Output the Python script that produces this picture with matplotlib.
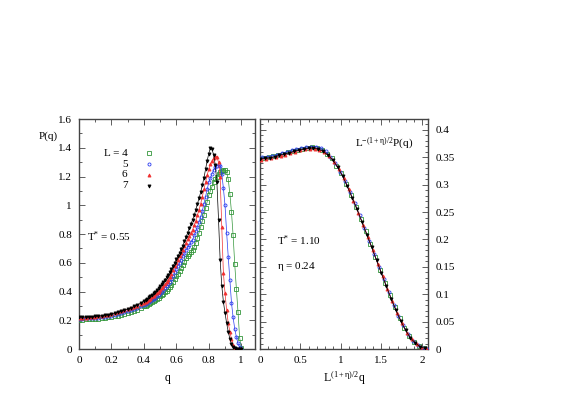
import numpy as np
import matplotlib
matplotlib.use('Agg')
import matplotlib.pyplot as plt
from matplotlib.ticker import MultipleLocator, FuncFormatter

plt.rcParams['font.family'] = ['Liberation Serif', 'DejaVu Serif']
plt.rcParams['mathtext.fontset'] = 'custom'
plt.rcParams['mathtext.rm'] = 'Liberation Serif'
plt.rcParams['mathtext.it'] = 'Liberation Serif'

# ── left panel: P(q) at T* = 0.55 ──
q_left = np.round(np.concatenate([np.arange(0, 0.39, 0.02), np.arange(0.40, 1.001, 0.01)]), 3)

P_L4 = [0.205, 0.205, 0.206, 0.207, 0.208, 0.210, 0.212, 0.214, 0.217, 0.220,
        0.224, 0.228, 0.232, 0.237, 0.243, 0.249, 0.256, 0.263, 0.271, 0.283,
        0.296, 0.302, 0.309, 0.314, 0.320, 0.326, 0.333, 0.340, 0.348, 0.357,
        0.366, 0.375, 0.385, 0.395, 0.405, 0.417, 0.43, 0.447, 0.465, 0.485,
        0.505, 0.525, 0.545, 0.565, 0.585, 0.607, 0.63, 0.645, 0.66, 0.675,
        0.69, 0.71, 0.74, 0.775, 0.81, 0.85, 0.89, 0.93, 0.98, 1.025,
        1.07, 1.10, 1.13, 1.16, 1.18, 1.20, 1.215, 1.23, 1.24, 1.245,
        1.245, 1.23, 1.18, 1.08, 0.95, 0.79, 0.59, 0.42, 0.26, 0.08, 0.01]
P_L5 = [0.212, 0.212, 0.213, 0.214, 0.215, 0.217, 0.219, 0.222, 0.225, 0.229,
        0.233, 0.238, 0.243, 0.249, 0.255, 0.262, 0.269, 0.277, 0.286, 0.297,
        0.308, 0.314, 0.320, 0.327, 0.334, 0.341, 0.349, 0.358, 0.367, 0.377,
        0.388, 0.400, 0.412, 0.425, 0.438, 0.453, 0.468, 0.489, 0.51, 0.535,
        0.56, 0.58, 0.60, 0.622, 0.645, 0.667, 0.69, 0.707, 0.725, 0.742,
        0.76, 0.79, 0.82, 0.85, 0.885, 0.92, 0.96, 1.01, 1.06, 1.11,
        1.16, 1.19, 1.22, 1.245, 1.265, 1.275, 1.28, 1.275, 1.22, 1.12,
        1.00, 0.81, 0.64, 0.48, 0.32, 0.22, 0.14, 0.085, 0.04, 0.012, 0.002]
P_L6 = [0.218, 0.218, 0.219, 0.220, 0.222, 0.224, 0.227, 0.230, 0.234, 0.239,
        0.244, 0.249, 0.255, 0.261, 0.268, 0.275, 0.283, 0.292, 0.301, 0.310,
        0.320, 0.327, 0.335, 0.342, 0.350, 0.360, 0.370, 0.380, 0.390, 0.400,
        0.410, 0.422, 0.435, 0.45, 0.465, 0.482, 0.50, 0.525, 0.55, 0.575,
        0.60, 0.622, 0.645, 0.667, 0.69, 0.715, 0.74, 0.762, 0.785, 0.807,
        0.83, 0.86, 0.89, 0.93, 0.97, 1.01, 1.06, 1.11, 1.16, 1.21,
        1.25, 1.285, 1.31, 1.33, 1.34, 1.335, 1.30, 1.20, 0.85, 0.53,
        0.39, 0.27, 0.18, 0.12, 0.07, 0.03, 0.01, 0.003, 0.0, 0.0, 0.0]
P_L7 = [0.222, 0.222, 0.223, 0.224, 0.225, 0.227, 0.229, 0.232, 0.236, 0.240,
        0.245, 0.250, 0.256, 0.262, 0.269, 0.277, 0.286, 0.296, 0.307, 0.320,
        0.334, 0.342, 0.350, 0.359, 0.368, 0.378, 0.388, 0.399, 0.411, 0.424,
        0.437, 0.451, 0.466, 0.482, 0.499, 0.517, 0.536, 0.556, 0.578, 0.601,
        0.625, 0.647, 0.67, 0.695, 0.72, 0.75, 0.78, 0.81, 0.84, 0.87,
        0.90, 0.93, 0.97, 1.01, 1.05, 1.09, 1.14, 1.19, 1.25, 1.31,
        1.36, 1.40, 1.39, 1.35, 1.28, 1.16, 0.90, 0.62, 0.44, 0.33,
        0.25, 0.18, 0.12, 0.07, 0.035, 0.015, 0.005, 0.001, 0.0, 0.0, 0.0]

# ── right panel: scaled curves at T* = 1.10, eta = 0.24 ──
x_R7 = np.round(np.arange(0.0, 2.07, 0.06), 3)
x_R6 = np.round(np.arange(0.015, 2.07, 0.06), 3)
x_R5 = np.round(np.arange(0.03, 2.08, 0.06), 3)
x_R4 = np.round(np.arange(0.045, 2.07, 0.06), 3)

S_L7 = [0.347, 0.348, 0.349, 0.351, 0.354, 0.356, 0.358, 0.361, 0.363, 0.365,
        0.3665, 0.367, 0.365, 0.361, 0.354, 0.345, 0.332, 0.316, 0.297, 0.276,
        0.255, 0.232, 0.209, 0.186, 0.162, 0.139, 0.115, 0.092, 0.071, 0.051,
        0.034, 0.020, 0.011, 0.004, 0.001]
S_L6 = [0.346, 0.347, 0.349, 0.351, 0.353, 0.355, 0.358, 0.360, 0.363, 0.3645,
        0.3655, 0.366, 0.364, 0.359, 0.352, 0.342, 0.328, 0.312, 0.292, 0.271,
        0.249, 0.227, 0.204, 0.180, 0.156, 0.133, 0.110, 0.087, 0.066, 0.047,
        0.030, 0.018, 0.009, 0.003, 0.001]
S_L5 = [0.350, 0.351, 0.353, 0.355, 0.358, 0.360, 0.363, 0.365, 0.367, 0.3685,
        0.3695, 0.3695, 0.367, 0.361, 0.350, 0.339, 0.324, 0.307, 0.287, 0.266,
        0.244, 0.221, 0.198, 0.174, 0.150, 0.127, 0.104, 0.081, 0.061, 0.043,
        0.027, 0.015, 0.007, 0.002, 0.000]
S_L4 = [0.349, 0.350, 0.352, 0.354, 0.356, 0.359, 0.361, 0.364, 0.366, 0.367,
        0.368, 0.367, 0.364, 0.357, 0.348, 0.335, 0.321, 0.302, 0.281, 0.260,
        0.238, 0.215, 0.192, 0.168, 0.145, 0.121, 0.098, 0.076, 0.056, 0.038,
        0.023, 0.012, 0.005, 0.002]

sizes = ['4', '5', '6', '7']
colors = ['#33963a', '#2b3df0', '#f03030', '#000000']
markers = ['s', 'o', '^', 'v']
filled = [False, False, True, True]

left_data = [P_L4, P_L5, P_L6, P_L7]
right_x = [x_R4, x_R5, x_R6, x_R7]
right_y = [S_L4, S_L5, S_L6, S_L7]

fig = plt.figure(figsize=(5.88, 4.15), dpi=100)
ax1 = fig.add_axes([0.1344, 0.1590, 0.2993, 0.5542])
ax2 = fig.add_axes([0.4422, 0.1590, 0.2862, 0.5542])


def draw(ax, x, y, i):
    ax.plot(x, y, color=colors[i], lw=0.5, marker=markers[i], ms=2.2, mew=0.6,
            mfc=colors[i] if filled[i] else 'none', mec=colors[i], zorder=3 + i)


for i in range(4):
    draw(ax1, q_left, left_data[i], i)
    draw(ax2, right_x[i], right_y[i], i)

fmt = FuncFormatter(lambda v, p: f'{v:g}')
for ax in (ax1, ax2):
    ax.tick_params(which='both', direction='in', top=True, bottom=True,
                   left=True, right=True, labelsize=8, pad=5, width=0.6,
                   colors='#444444', labelcolor='black')
    ax.tick_params(which='major', length=4)
    ax.tick_params(which='minor', length=2)
    for s in ax.spines.values():
        s.set_linewidth(1.0)
        s.set_color('#444444')
    ax.xaxis.set_major_formatter(fmt)
    ax.yaxis.set_major_formatter(fmt)

ax1.set_xlim(0, 1.085)
ax1.set_ylim(0, 1.6)
ax1.xaxis.set_major_locator(MultipleLocator(0.2))
ax1.xaxis.set_minor_locator(MultipleLocator(0.1))
ax1.yaxis.set_major_locator(MultipleLocator(0.2))
ax1.yaxis.set_minor_locator(MultipleLocator(0.1))
ax1.set_xlabel('q', fontsize=8.5, labelpad=5)
ax1.text(-0.118, 0.926, 'P(q)', transform=ax1.transAxes, fontsize=8,
         ha='right', va='center')
ax1.text(0.045, 0.487, r'T$^{*}$ = 0.55', transform=ax1.transAxes, fontsize=8,
         ha='left', va='center')
leg_y = [0.852, 0.804, 0.757, 0.709]
for i in range(4):
    lab = 'L = ' + sizes[i] if i == 0 else sizes[i]
    ax1.text(0.275, leg_y[i], lab, transform=ax1.transAxes, fontsize=8,
             ha='right', va='center')
    ax1.plot([0.40], [leg_y[i]], transform=ax1.transAxes, ls='none',
             marker=markers[i], ms=2.2, mew=0.6, mec=colors[i],
             mfc=colors[i] if filled[i] else 'none')

ax2.set_xlim(0, 2.08)
ax2.set_ylim(0, 0.42)
ax2.xaxis.set_major_locator(MultipleLocator(0.5))
ax2.xaxis.set_minor_locator(MultipleLocator(0.1))
ax2.yaxis.set_major_locator(MultipleLocator(0.05))
ax2.yaxis.set_minor_locator(MultipleLocator(0.01))
ax2.yaxis.tick_right()
ax2.tick_params(which='both', left=True, right=True, labelleft=False, labelright=True)
ax2.set_xlabel(r'L$^{(1+\eta)/2}$q', fontsize=8.5, labelpad=3)
ax2.text(0.91, 0.896, r'L$^{-(1+\eta)/2}$P(q)', transform=ax2.transAxes,
         fontsize=8, ha='right', va='center')
ax2.text(0.10, 0.47, r'T$^{*}$ = 1.10', transform=ax2.transAxes, fontsize=8,
         ha='left', va='center')
ax2.text(0.10, 0.357, r'$\eta$ = 0.24', transform=ax2.transAxes, fontsize=8,
         ha='left', va='center')

fig.savefig('out.png', dpi=100, facecolor='white')
